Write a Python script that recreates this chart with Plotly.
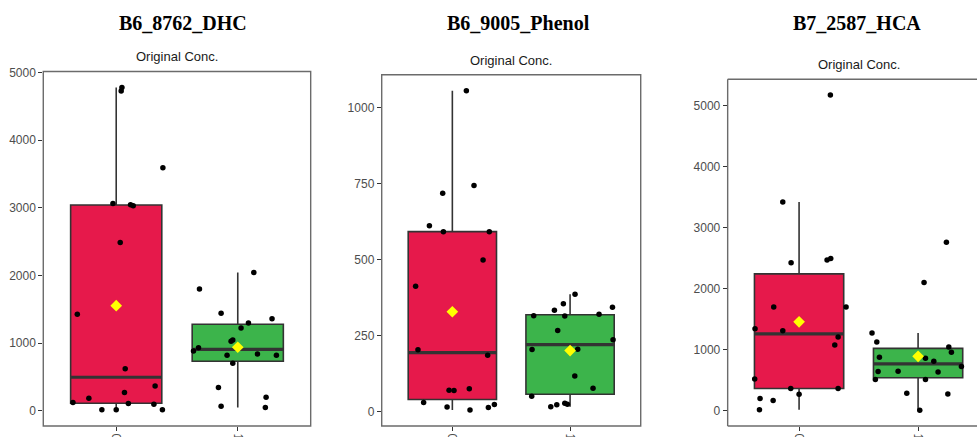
import numpy as np
import plotly.graph_objects as go

# ---------------- data ----------------
titles = ["B6_8762_DHC", "B6_9005_Phenol", "B7_2587_HCA"]
subtitle = "Original Conc."
group_labels = ["0", "1"]

dhc_g0 = [4774, 4725, 3589, 3063, 3043, 3029, 2488, 1426, 624, 270, 187, 123, 108, 369, 98, 15, 15, 15]
dhc_g0_jit = [0.047, 0.041, 0.384, -0.027, 0.118, 0.14, 0.033, -0.32, 0.074, 0.068, -0.225, -0.356, 0.10, 0.32, 0.31, -0.118, 0.0, 0.38]
dhc_g1 = [2045, 1799, 1441, 1362, 1298, 1224, 1047, 1028, 934, 885, 821, 841, 821, 703, 344, 202, 69, 49]
dhc_g1_jit = [0.132, -0.315, -0.137, 0.282, 0.088, 0.027, -0.041, -0.055, -0.323, -0.364, -0.088, 0.162, 0.318, -0.041, -0.159, 0.233, -0.137, 0.227]

phe_g0 = [1056, 744, 718, 611, 592, 592, 499, 412, 203, 185, 70, 69, 75, 30, 15, 5, 13, 23]
phe_g0_jit = [0.119, 0.184, -0.082, -0.195, -0.076, 0.314, 0.261, -0.312, -0.292, 0.30, -0.028, 0.014, 0.144, -0.244, -0.045, 0.15, 0.306, 0.357]
phe_g1 = [386, 355, 343, 333, 320, 315, 314, 267, 236, 204, 205, 117, 77, 50, 16, 22, 27, 24]
phe_g1_jit = [0.042, -0.057, 0.36, -0.133, 0.246, -0.309, -0.045, -0.105, 0.365, -0.323, 0.065, 0.04, 0.195, -0.326, -0.164, -0.113, -0.045, -0.023]

hca_g0 = [5169, 3419, 2421, 2465, 2492, 1696, 1696, 1341, 1309, 1205, 1074, 518, 360, 360, 267, 196, 164, 11]
hca_g0_jit = [0.263, -0.137, -0.067, 0.235, 0.266, -0.213, 0.395, -0.37, -0.137, 0.328, 0.30, -0.373, -0.07, 0.328, 0.0, -0.328, -0.218, -0.333]
hca_g1 = [2759, 2099, 1270, 1123, 1041, 954, 872, 856, 807, 720, 638, 643, 632, 507, 507, 284, 273, 5]
hca_g1_jit = [0.238, 0.05, -0.387, -0.347, 0.258, 0.28, -0.325, 0.062, 0.132, 0.364, -0.336, -0.168, 0.168, -0.359, 0.062, -0.095, 0.25, 0.014]

y_ticks = [[0, 1000, 2000, 3000, 4000, 5000],
           [0, 250, 500, 750, 1000],
           [0, 1000, 2000, 3000, 4000, 5000]]

panels = [
    [(dhc_g0, dhc_g0_jit), (dhc_g1, dhc_g1_jit)],
    [(phe_g0, phe_g0_jit), (phe_g1, phe_g1_jit)],
    [(hca_g0, hca_g0_jit), (hca_g1, hca_g1_jit)],
]

# ---------------- styling ----------------
W, H = 977, 437
fill_colors = ["#E6194B", "#3CB44B"]
edge = "#333333"
frame_col = "#6b6b6b"
box_w = 0.75

x_domains = [[0.0443, 0.318], [0.3907, 0.6558], [0.7448, 1.0]]
y_domains = [[0.0252, 0.8364], [0.0252, 0.8291], [0.0252, 0.8185]]
x_ranges = [[0.4, 2.6], [0.4, 2.6], [0.4, 2.495]]
title_x = [0.1873, 0.5302, 0.8772]
sub_x = [0.1812, 0.523, 0.8788]
sub_y = [0.8703, 0.8627, 0.8513]


def box_stats(vals):
    v = np.asarray(vals, dtype=float)
    q1, med, q3 = np.percentile(v, [25, 50, 75])
    iqr = q3 - q1
    lo = v[v >= q1 - 1.5 * iqr].min()
    hi = v[v <= q3 + 1.5 * iqr].max()
    return q1, med, q3, lo, hi, v.mean()


fig = go.Figure()
shapes = []
annotations = []

for p, groups in enumerate(panels):
    sfx = "" if p == 0 else str(p + 1)
    xa, ya = "x" + sfx, "y" + sfx
    all_vals = np.concatenate([np.asarray(g[0], float) for g in groups])
    vmin, vmax = all_vals.min(), all_vals.max()
    span = vmax - vmin
    for gi, (vals, jit) in enumerate(groups):
        pos = gi + 1
        q1, med, q3, lo, hi, mean = box_stats(vals)
        fig.add_trace(go.Box(
            x=[pos], q1=[q1], median=[med], q3=[q3], lowerfence=[lo], upperfence=[hi],
            width=box_w, whiskerwidth=0, fillcolor=fill_colors[gi],
            line=dict(color=edge, width=1.6), boxpoints=False,
            xaxis=xa, yaxis=ya, showlegend=False, hoverinfo="skip"))
        fig.add_trace(go.Scatter(
            x=[pos - box_w / 2, pos + box_w / 2], y=[med, med], mode="lines",
            line=dict(color=edge, width=3.2), xaxis=xa, yaxis=ya,
            showlegend=False, hoverinfo="skip"))
        fig.add_trace(go.Scatter(
            x=[pos + j for j in jit], y=vals, mode="markers",
            marker=dict(color="black", size=5.5), xaxis=xa, yaxis=ya,
            showlegend=False))
        fig.add_trace(go.Scatter(
            x=[pos], y=[mean], mode="markers",
            marker=dict(color="#FFFF00", size=9, symbol="diamond"),
            xaxis=xa, yaxis=ya, showlegend=False))

    axis_font = dict(family="Liberation Sans, Arial, sans-serif", size=12, color="#4d4d4d")
    fig.layout["xaxis" + sfx] = dict(
        domain=x_domains[p], range=x_ranges[p], anchor=ya,
        tickvals=[1, 2], ticktext=group_labels, tickangle=90,
        ticks="outside", ticklen=4, tickcolor=edge, tickwidth=1.2,
        showgrid=False, zeroline=False, showline=False, tickfont=axis_font,
        automargin=False, fixedrange=True)
    fig.layout["yaxis" + sfx] = dict(
        domain=y_domains[p], range=[vmin - 0.05 * span, vmax + 0.05 * span], anchor=xa,
        tickvals=y_ticks[p], ticks="outside", ticklen=4, tickcolor=edge, tickwidth=1.2,
        showgrid=False, zeroline=False, showline=False, tickfont=axis_font,
        automargin=False, fixedrange=True)

    xd, yd = xa + " domain", ya + " domain"
    line = dict(color=frame_col, width=1.4)
    if p < 2:
        shapes.append(dict(type="rect", xref=xd, yref=yd, x0=0, x1=1, y0=0, y1=1,
                           line=line, fillcolor="rgba(0,0,0,0)", layer="above"))
    else:
        for (x0, y0, x1, y1) in [(0, 0, 0, 1), (0, 0, 1.2, 0), (0, 1, 1.2, 1)]:
            shapes.append(dict(type="line", xref=xd, yref=yd, x0=x0, y0=y0, x1=x1, y1=y1,
                               line=line, layer="above"))

    annotations.append(dict(
        text="<b>" + titles[p] + "</b>", xref="paper", yref="paper",
        x=title_x[p], y=0.9485, xanchor="center", yanchor="middle", showarrow=False,
        font=dict(family="Liberation Serif, Times New Roman, serif", size=20, color="black")))
    annotations.append(dict(
        text=subtitle, xref="paper", yref="paper",
        x=sub_x[p], y=sub_y[p], xanchor="center", yanchor="middle", showarrow=False,
        font=dict(family="Liberation Sans, Arial, sans-serif", size=13, color="#1a1a1a")))

fig.update_layout(
    width=W, height=H, margin=dict(l=0, r=0, t=0, b=0),
    paper_bgcolor="white", plot_bgcolor="white",
    shapes=shapes, annotations=annotations, showlegend=False)

fig.write_html("out.html",
               config={"displayModeBar": False},
               post_script="document.body.style.margin='0px';document.body.style.overflow='hidden';")
